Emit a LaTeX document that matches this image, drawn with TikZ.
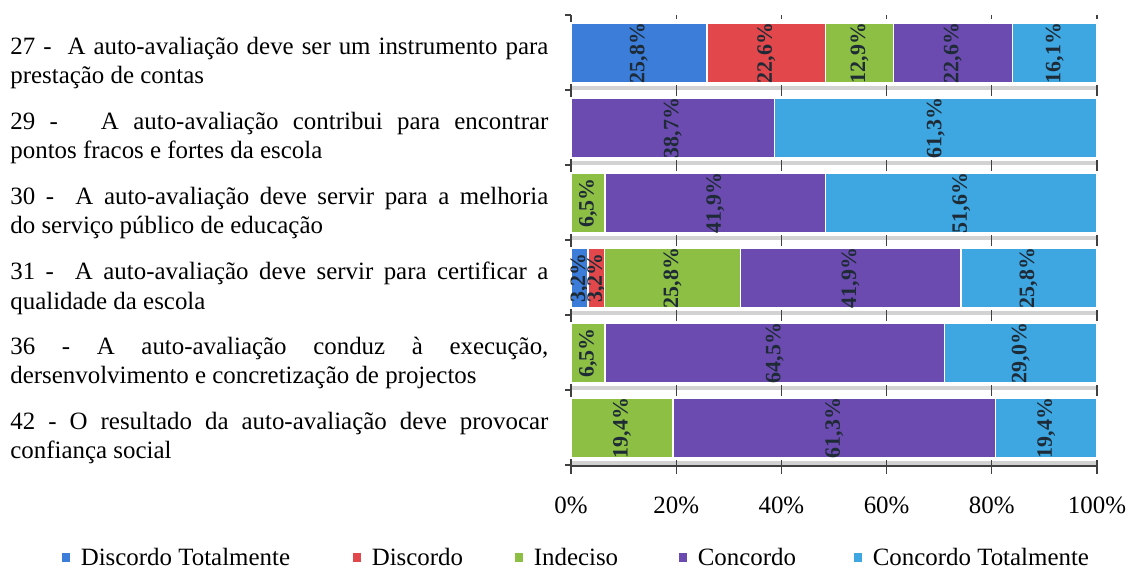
\documentclass[tikz,border=0pt]{standalone}
\usepackage{fontspec}
\setmainfont{Liberation Serif}
\usetikzlibrary{positioning}

\definecolor{seg1}{HTML}{3B7DD8}
\definecolor{seg2}{HTML}{E2474B}
\definecolor{seg3}{HTML}{8CBF44}
\definecolor{seg4}{HTML}{6B4BB0}
\definecolor{seg5}{HTML}{3EA6E0}
\definecolor{lbltext}{HTML}{1E2B36}

\pgfkeys{/pgf/number format/.cd, use comma, fixed, fixed zerofill, precision=1, assume math mode=true}

\tikzset{
  seg/.style={draw=white, line width=0.8bp},
  seglbl/.style={rotate=90, font=\fontsize{11}{11}\selectfont\bfseries, text=lbltext, inner sep=0pt},
  qtext/.style={anchor=west, align=left, font=\fontsize{12.5}{15}\selectfont, inner sep=0pt},
  ticklbl/.style={font=\fontsize{12.5}{15}\selectfont, inner sep=0pt},
  legsq/.style={minimum width=4bp, minimum height=4.5bp, inner sep=0pt},
  legtxt/.style={font=\fontsize{12.5}{15}\selectfont, inner sep=0pt},
  axisln/.style={black!75, line width=0.6bp}
}

\begin{document}
\begin{tikzpicture}[x=0.5bp, y=-0.5bp]
  \useasboundingbox (0,0) rectangle (1128,569);
  % plot frame in pixels: left edge and full width
  \def\xo{571}
  \def\xw{526}

  % gray bands and gridline stubs under each bar
  \foreach \r in {1,...,6} {
    \pgfmathsetmacro{\yb}{83+75*(\r-1)}
    \fill[gray!35] (\xo,\yb+3) rectangle (\xo+\xw,\yb+7);
    \foreach \k in {1,...,5}
      \draw[axisln] ({\xo+\xw*\k/5},\yb+2) -- ({\xo+\xw*\k/5},\yb+13);
  }
  % small ticks on top
  \foreach \k in {1,...,5}
    \draw[axisln] ({\xo+\xw*\k/5},15) -- ({\xo+\xw*\k/5},19);

  % Axes
  \draw[axisln] (\xo,15) -- (\xo,466) -- (\xo+\xw,466);
  \foreach \k in {0,...,6}
    \draw[axisln] (\xo-6,15+75*\k) -- (\xo,15+75*\k);
  \foreach \k in {0,...,5}
    \draw[axisln] ({\xo+\xw*\k/5},461) -- ({\xo+\xw*\k/5},474);
  \foreach [count=\k from 0] \t in {0,20,40,60,80,100}
    \node[ticklbl] (xl\k) at ({\xo+\xw*\k/5},505) {\t\%};

  % Stacked bars, one row per question
  \foreach [count=\r] \vals in {{25.8,22.6,12.9,22.6,16.1},{0,0,0,38.7,61.3},{0,0,6.5,41.9,51.6},{3.2,3.2,25.8,41.9,25.8},{0,0,6.5,64.5,29.0},{0,0,19.4,61.3,19.4}} {
    \pgfmathsetmacro{\yt}{23+75*(\r-1)}
    \gdef\cum{0}
    \foreach [count=\k] \v in \vals {
      \pgfmathsetmacro{\xa}{\xo+(\xw/100)*\cum}
      \pgfmathsetmacro{\xb}{min(\xo+\xw,\xo+(\xw/100)*(\cum+\v))}
      \ifdim\v pt>0pt
        \draw[seg, fill=seg\k] (\xa,\yt) rectangle (\xb,\yt+60);
        \node[seglbl] (v\r-\k) at ({(\xa+\xb)/2},\yt+30) {\pgfmathprintnumber{\v}\%};
      \fi
      \pgfmathsetmacro{\cumnew}{\cum+\v}
      \xdef\cum{\cumnew}
    }
  }

  % Question texts
  \foreach [count=\r] \la/\lb in {
      {27 - \ A auto-avaliação deve ser um instrumento para}/{prestação de contas},
      {29 - \ \ A auto-avaliação contribui para encontrar}/{pontos fracos e fortes da escola},
      {30 - \ A auto-avaliação deve servir para a melhoria}/{do serviço público de educação},
      {31 - \ A auto-avaliação deve servir para certificar a}/{qualidade da escola},
      {36 - A auto-avaliação conduz à execução,}/{dersenvolvimento e concretização de projectos},
      {42 - O resultado da auto-avaliação deve provocar}/{confiança social}} {
    \pgfmathsetmacro{\yq}{63+75*(\r-1)}
    \node[qtext] (q\r) at (10,\yq) {\hbox to 269bp{\la}\\\lb};
  }

  % Legend
  \foreach [count=\k] \x/\t in {66/Discordo Totalmente,357/Discordo,519/Indeciso,683/Concordo,858/Concordo Totalmente} {
    \node[legsq, fill=seg\k] (sq\k) at (\x,557) {};
    \node[legtxt, right=5bp of sq\k] (lg\k) {\t};
  }
\end{tikzpicture}
\end{document}
